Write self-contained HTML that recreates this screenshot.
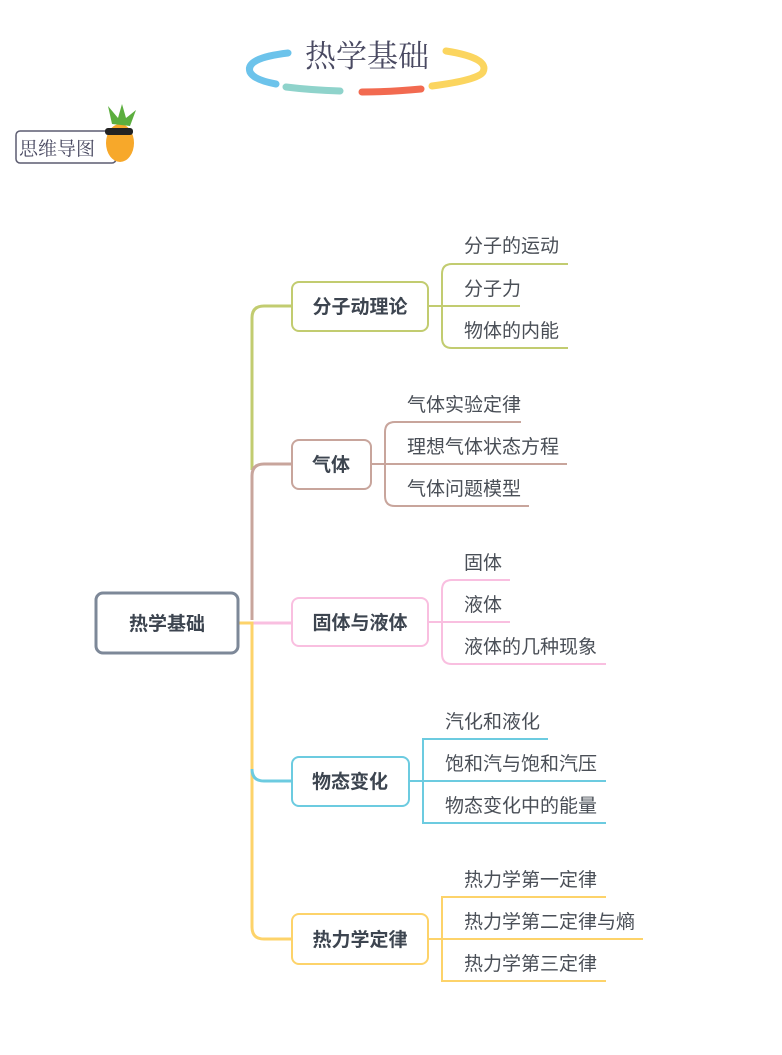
<!DOCTYPE html>
<html><head><meta charset="utf-8"><style>
html,body{margin:0;padding:0;background:#fff;width:782px;height:1055px;overflow:hidden}
svg{display:block}
text{font-family:"Liberation Sans","Noto Sans CJK SC",sans-serif}
.b{font-weight:bold;font-size:19px;fill:#3d4550}
.l{font-size:19px;fill:#4a4f57}
</style></head><body>
<svg width="782" height="1055" viewBox="0 0 782 1055" xmlns="http://www.w3.org/2000/svg">
<!-- title -->
<g fill="none" stroke-linecap="round" stroke-width="7">
<path d="M288 53 Q245 58 250 72 Q254 80 276 84" stroke="#6cc3eb"/>
<path d="M286 87 Q310 90 340 91" stroke="#8fd3cb"/>
<path d="M362 92 Q390 92 421 89" stroke="#f26a50"/>
<path d="M446 51 Q490 58 483 72 Q478 80 432 86" stroke="#fbd55f"/>
</g>
<text x="367" y="67" text-anchor="middle" font-size="31" fill="#4a4a62" style="font-family:'Noto Serif CJK SC',serif">热学基础</text>
<!-- logo -->
<rect x="16" y="131" width="100" height="32" rx="4" fill="#fff" stroke="#5c5c70" stroke-width="1.5"/>
<text x="19" y="155" font-size="19" fill="#4a4a62" style="font-family:'Noto Serif CJK SC',serif">思维导图</text>
<ellipse cx="120" cy="143" rx="14" ry="19" fill="#f7a82a"/>
<path d="M112 124 L108 106 L118 118 L122 104 L126 118 L136 110 L130 126 Z" fill="#5cae3e"/>
<rect x="105" y="128" width="28" height="7" rx="3" fill="#222"/>
<!-- trunk -->
<g fill="none" stroke-width="3">
<path d="M252 470 V318 Q252 306 264 306 H292" stroke="#c2cc70"/>
<path d="M252 620 V476 Q252 464 264 464 H292" stroke="#c8a59c"/>
<path d="M238 623 H292" stroke="#f9bfe0"/>
<path d="M238 623 H252 V927 Q252 939 264 939 H292" stroke="#fdd36a"/>
<path d="M252 769 Q252 781 264 781 H292" stroke="#6ccbe0"/>
</g>
<!-- root -->
<rect x="96" y="593" width="142" height="60" rx="7" fill="#fff" stroke="#7d8898" stroke-width="3"/>
<text x="167" y="630" text-anchor="middle" class="b">热学基础</text>
<!-- group 1 -->
<g fill="none" stroke="#c2cc70" stroke-width="2">
<path d="M568 264 H452 Q442 264 442 274 V338 Q442 348 452 348 H568"/>
<path d="M428 306 H520"/>
</g>
<rect x="292" y="282" width="136" height="49" rx="7" fill="#fff" stroke="#c2cc70" stroke-width="2"/>
<text x="360" y="313" text-anchor="middle" class="b">分子动理论</text>
<text x="464" y="252" class="l">分子的运动</text>
<text x="464" y="295" class="l">分子力</text>
<text x="464" y="337" class="l">物体的内能</text>
<!-- group 2 -->
<g fill="none" stroke="#c8a59c" stroke-width="2">
<path d="M521 422 H395 Q385 422 385 432 V496 Q385 506 395 506 H529"/>
<path d="M371 464 H567"/>
</g>
<rect x="292" y="440" width="79" height="49" rx="7" fill="#fff" stroke="#c8a59c" stroke-width="2"/>
<text x="331" y="471" text-anchor="middle" class="b">气体</text>
<text x="407" y="411" class="l">气体实验定律</text>
<text x="407" y="453" class="l">理想气体状态方程</text>
<text x="407" y="495" class="l">气体问题模型</text>
<!-- group 3 -->
<g fill="none" stroke="#f9bfe0" stroke-width="2">
<path d="M510 580 H452 Q442 580 442 590 V654 Q442 664 452 664 H606"/>
<path d="M428 622 H510"/>
</g>
<rect x="292" y="598" width="136" height="48" rx="7" fill="#fff" stroke="#f9bfe0" stroke-width="2"/>
<text x="360" y="629" text-anchor="middle" class="b">固体与液体</text>
<text x="464" y="569" class="l">固体</text>
<text x="464" y="611" class="l">液体</text>
<text x="464" y="653" class="l">液体的几种现象</text>
<!-- group 4 -->
<g fill="none" stroke="#6ccbe0" stroke-width="2">
<path d="M548 739 H423 V823 H606"/>
<path d="M409 781 H606"/>
</g>
<rect x="292" y="757" width="117" height="49" rx="7" fill="#fff" stroke="#6ccbe0" stroke-width="2"/>
<text x="350" y="788" text-anchor="middle" class="b">物态变化</text>
<text x="445" y="728" class="l">汽化和液化</text>
<text x="445" y="770" class="l">饱和汽与饱和汽压</text>
<text x="445" y="812" class="l">物态变化中的能量</text>
<!-- group 5 -->
<g fill="none" stroke="#fdd36a" stroke-width="2">
<path d="M606 897 H442 V981 H606"/>
<path d="M428 939 H643"/>
</g>
<rect x="292" y="914" width="136" height="50" rx="7" fill="#fff" stroke="#fdd36a" stroke-width="2"/>
<text x="360" y="946" text-anchor="middle" class="b">热力学定律</text>
<text x="464" y="886" class="l">热力学第一定律</text>
<text x="464" y="928" class="l">热力学第二定律与熵</text>
<text x="464" y="970" class="l">热力学第三定律</text>
</svg>
</body></html>
